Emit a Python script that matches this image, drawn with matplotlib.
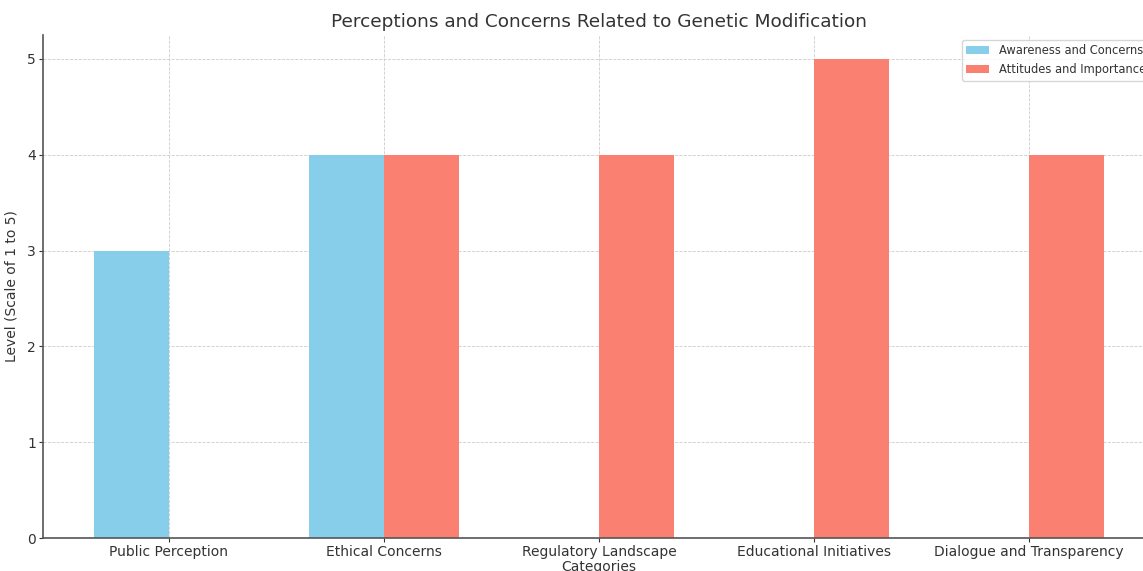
import numpy as np
import matplotlib.pyplot as plt

categories = ["Public Perception", "Ethical Concerns", "Regulatory Landscape",
              "Educational Initiatives", "Dialogue and Transparency"]
awareness = [3, 4, 0, 0, 0]
attitudes = [0, 4, 4, 5, 4]

txt = "#333333"
plt.rcParams['text.color'] = txt
plt.rcParams['axes.labelcolor'] = txt
plt.rcParams['xtick.color'] = txt
plt.rcParams['ytick.color'] = txt

fig = plt.figure(figsize=(11.43, 5.71), dpi=100)
ax = fig.add_axes([43 / 1143, 1 - 538 / 571, (1155 - 43) / 1143, (538 - 35) / 571])

x = np.arange(len(categories))
w = 0.35
ax.bar(x - w / 2, awareness, w, color="skyblue", label="Awareness and Concerns")
ax.bar(x + w / 2, attitudes, w, color="salmon", label="Attitudes and Importance")

ax.set_xticks(x)
ax.set_xticklabels(categories, fontsize=10)
ax.tick_params(axis='both', labelsize=10, length=3, pad=2)
ax.set_xlim(-0.586, 4.586)
ax.set_ylim(0, 5.25)
ax.set_xlabel("Categories", fontsize=10, labelpad=1)
ax.set_ylabel("Level (Scale of 1 to 5)", fontsize=10, labelpad=6)
ax.set_title("Perceptions and Concerns Related to Genetic Modification", fontsize=13.3, color=txt)
ax.grid(True, linestyle='--', linewidth=0.6, color="#cccccc")
ax.set_axisbelow(True)
for s in ["top", "right"]:
    ax.spines[s].set_visible(False)
for s in ["left", "bottom"]:
    ax.spines[s].set_color("#555555")
    ax.spines[s].set_linewidth(1.2)
ax.legend(loc="upper right", fontsize=8.3, borderaxespad=0.4)

plt.savefig("out.png", dpi=100)
